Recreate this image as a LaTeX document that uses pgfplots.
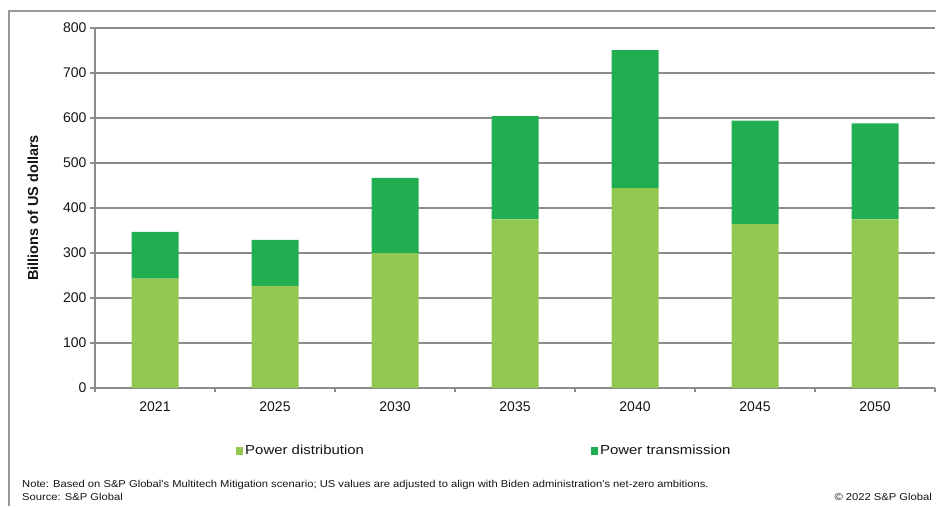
\documentclass[border=0pt]{standalone}
\usepackage{fontspec}
\setmainfont{Liberation Sans}
\newfontfamily\widefont[FakeStretch=1.15]{Liberation Sans}
\newfontfamily\notefont[FakeStretch=1.12]{Liberation Sans}
\usepackage{pgfplots}
\pgfplotsset{compat=1.18}
\definecolor{distc}{RGB}{146,200,82}
\definecolor{transc}{RGB}{33,174,80}
\definecolor{gridc}{RGB}{140,140,140}
\definecolor{framec}{RGB}{150,150,150}
\definecolor{txt}{RGB}{20,20,20}
\begin{document}
\begin{tikzpicture}
\useasboundingbox (0pt,0pt) rectangle (936pt,-506pt);
\draw[framec, line width=2.5pt] (9pt,-506pt) -- (9pt,-11pt) -- (936pt,-11pt);
\begin{axis}[
  at={(95pt,-388pt)}, anchor=south west,
  scale only axis, width=840pt, height=360pt,
  ybar stacked, bar width=47pt,
  xmin=-0.5, xmax=6.5, ymin=0, ymax=800,
  ytick={0,100,...,800},
  xtick={0,...,6},
  xticklabels={2021,2025,2030,2035,2040,2045,2050},
  minor xtick={-0.5,0.5,...,6.5},
  major x tick style={draw=none},
  minor tick length=4pt, major tick length=5pt,
  tick align=outside,
  axis x line*=bottom, axis y line*=left,
  axis line style={gridc, line width=1.2pt},
  every tick/.style={gridc, line width=1.2pt},
  ymajorgrids, grid style={gridc, line width=1.2pt},
  /pgf/number format/assume math mode=true,
  tick label style={font=\fontsize{14}{16}\selectfont, text=txt},
  xticklabel style={yshift=-5pt},
  ylabel={\textbf{Billions of US dollars}},
  ylabel style={font=\fontsize{14.5}{16}\selectfont, text=txt, at={(axis description cs:-0.0738,0.5)}, anchor=center},
  legend columns=2,
  legend style={draw=none, fill=none, at={(0.1679,-0.175)}, anchor=west, inner sep=0pt,
    font=\widefont\fontsize{13}{15}\selectfont, text=txt,
    /tikz/every even column/.append style={column sep=225pt}},
  legend image code/.code={\fill[#1] (0pt,-4pt) rectangle (7pt,4pt);},
]
\addplot[fill=distc, draw=none] coordinates {(0,243) (1,227) (2,300) (3,375) (4,444) (5,364) (6,375)};
\addplot[fill=transc, draw=none] coordinates {(0,104) (1,102) (2,167) (3,229) (4,307) (5,230) (6,213)};
\legend{Power distribution, Power transmission}
\end{axis}
\node[anchor=base west, inner sep=0pt, text=txt, font=\notefont\fontsize{10}{11}\selectfont] at (22pt,-487pt) {Note: Based on S\&P Global's Multitech Mitigation scenario; US values are adjusted to align with Biden administration's net-zero ambitions.};
\node[anchor=base west, inner sep=0pt, text=txt, font=\notefont\fontsize{10}{11}\selectfont] at (22pt,-500pt) {Source: S\&P Global};
\node[anchor=base east, inner sep=0pt, text=txt, font=\notefont\fontsize{10}{11}\selectfont] at (932pt,-500pt) {\textcopyright{} 2022 S\&P Global};
\end{tikzpicture}
\end{document}
